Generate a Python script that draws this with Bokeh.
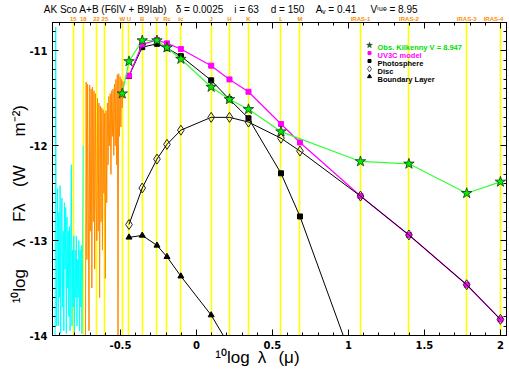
import numpy as np
from bokeh.plotting import figure
from bokeh.models import (Range1d, LinearAxis, FixedTicker, Label, AllLabels)
from bokeh.embed import file_html
from bokeh.resources import INLINE

# ---------------- data ----------------
filter_names = ["15", "18", "22", "25", "W", "U", "B", "V", "R", "I", "J", "H", "K",
                "L", "M", "IRAS-1", "IRAS-2", "IRAS-3", "IRAS-4"]
filter_subs = ["", "", "", "", "", "", "", "", "c", "c", "", "", "", "", "", "", "", "", ""]
filter_um = [0.155, 0.18, 0.22, 0.25, 0.325, 0.36, 0.44, 0.55, 0.64, 0.79, 1.25, 1.65,
             2.2, 3.6, 4.8, 12.0, 25.0, 60.0, 100.0]

obs_um = [0.325, 0.36, 0.44, 0.55, 0.64, 0.79, 1.25, 1.65, 2.2, 3.6, 12.0, 25.0, 60.0, 100.0]
obs_flux = [-11.45, -11.11, -10.89, -10.89, -10.965, -11.085, -11.38, -11.51, -11.615,
            -11.85, -12.165, -12.19, -12.50, -12.38]

model_um = [0.36, 0.44, 0.55, 0.64, 0.79, 1.25, 1.65, 2.2, 3.6, 4.8, 12.0, 25.0, 60.0, 100.0]
model_flux = [-11.26, -10.93, -10.885, -10.92, -10.98, -11.155, -11.30, -11.43, -11.77,
              -11.965, -12.53, -12.94, -13.465, -13.83]

phot_um = [0.36, 0.44, 0.55, 0.64, 0.79, 1.25, 1.65, 2.2, 3.6, 4.8, 12.0]
phot_flux = [-11.265, -10.96, -10.925, -10.97, -11.055, -11.31, -11.51, -11.71, -12.29,
             -12.745, -14.5]

disc_um = [0.36, 0.44, 0.55, 0.64, 0.79, 1.25, 1.65, 2.2, 3.6, 4.8, 12.0, 25.0, 60.0, 100.0]
disc_flux = [-12.83, -12.445, -12.14, -11.985, -11.835, -11.70, -11.70, -11.75, -11.92,
             -12.055, -12.53, -12.94, -13.465, -13.83]

bl_um = [0.36, 0.44, 0.55, 0.64, 0.79, 1.25, 1.65]
bl_flux = [-12.965, -12.945, -13.05, -13.17, -13.375, -13.785, -14.11]

# IUE spectra (log lambda grid, log lambda*F_lambda)
swp_loglam = np.linspace(-0.930, -0.745, 46)
swp_flux = [-14.0, -10.75, -13.9,
            -13.2, -12.45, -13.9, -12.7, -13.6, -12.42, -13.98, -12.8,
            -12.55, -13.7, -12.9, -13.95, -12.6, -13.3, -12.65, -13.98, -12.75, -13.5,
            -12.9, -13.8, -12.85, -13.95, -13.0, -12.2, -13.9, -13.1,
            -13.7, -12.95, -13.98, -13.1, -13.6, -12.95, -13.9, -13.2,
            -13.6, -13.0, -13.95, -13.1, -13.7, -13.05, -13.98, -13.2, -12.0]
lwp_loglam = np.linspace(-0.730, -0.474, 56)
lwp_flux = [-14.0,
            -11.33, -13.2, -11.35, -12.7, -13.95, -11.36, -12.9, -11.4, -13.5, -11.38,
            -12.8, -11.42, -13.3, -11.45, -12.6, -13.0, -11.5, -12.9, -11.55, -13.6,
            -11.58, -12.8, -11.6, -13.1, -11.62, -12.5, -11.66, -13.4, -11.63, -12.6,
            -11.55, -12.2, -11.48, -12.0, -11.45, -12.3, -11.42, -11.9, -11.4, -12.1,
            -11.35, -12.0, -11.3, -12.2, -11.25, -14.0,
            -11.24, -11.9, -11.27, -11.8, -11.3, -11.6, -11.32, -11.5, -11.45]

x_tick_vals = [-0.5, 0, 0.5, 1, 1.5, 2]
x_tick_labels = ["-0.5", "0", "0.5", "1", "1.5", "2"]
y_tick_vals = [-14, -13, -12, -11]
y_tick_labels = ["-14", "-13", "-12", "-11"]

title_parts = ["AK Sco A+B (F6IV + B9Iab)", "δ = 0.0025", "i = 63", "d = 150",
               "Aᵥ = 0.41", "Vⁱᵘᵉ = 8.95"]
xlabel_parts = ["¹⁰log", "λ", "(μ)"]
ylabel_parts = ["¹⁰log", "λ", "Fλ", "(W", "m⁻²)"]
legend_labels = ["Obs. Kilkenny V = 8.947", "UV3C model", "Photosphere", "Disc",
                 "Boundary Layer"]

# ---------------- layout ----------------
W, H = 509, 375
X0, X1 = -0.947, 2.04
Y0, Y1 = -14.0, -10.70
ML, MR, MT, MB = 52, 3, 18, 40
FW, FH = W - ML - MR, H - MT - MB
PX_X = FW / (X1 - X0)
PX_Y = FH / (Y1 - Y0)


def dx(px):  # page x -> data x
    return float(X0 + (px - ML) / PX_X)


def dy(py):  # page y -> data y
    return float(Y1 - (py - MT) / PX_Y)


# piece centres (page pixels) for the texts outside the frame
title_px = [105, 199, 246, 287, 335.5, 393.5]
xlabel_px = [232, 261.5, 288.5]
ylabel_py = [285, 241, 210.5, 173.5, 117.5]
FILTER_LABEL_MAX_PX = 493   # keep the last filter name inside the panel

p = figure(width=W, height=H, x_range=Range1d(X0, X1), y_range=Range1d(Y0, Y1),
           output_backend="svg", toolbar_location=None,
           x_axis_type=None, y_axis_type=None,
           min_border_left=ML, min_border_right=MR, min_border_top=MT, min_border_bottom=MB,
           background_fill_color="white", border_fill_color="white")
p.outline_line_color = "black"
p.outline_line_width = 1

x_minor = list(np.round(np.arange(-0.9, 2.05, 0.1), 2))
y_minor = list(np.round(np.arange(-14.0, -10.65, 0.1), 2))


def style_ticks(ax, major_in, minor_in):
    ax.major_tick_in = major_in
    ax.major_tick_out = 0
    ax.minor_tick_in = minor_in
    ax.minor_tick_out = 0
    ax.axis_line_color = "black"
    ax.major_tick_line_color = "black"
    ax.minor_tick_line_color = "black"


def labelled_axis(ticks, minor, labels):
    ax = LinearAxis(ticker=FixedTicker(ticks=ticks, minor_ticks=minor))
    style_ticks(ax, 6, 3)
    ax.major_label_overrides = dict(zip(ticks, labels))
    ax.major_label_text_font = "DejaVu Sans"
    ax.major_label_text_font_style = "bold"
    ax.major_label_text_font_size = "10px"
    ax.major_label_text_color = "black"
    ax.major_label_standoff = 5
    return ax


def bare_axes(ticks, minor):
    a1 = LinearAxis(ticker=FixedTicker(ticks=[], minor_ticks=list(ticks)))
    style_ticks(a1, 0, 6)
    a2 = LinearAxis(ticker=FixedTicker(ticks=[], minor_ticks=minor))
    style_ticks(a2, 0, 3)
    for a in (a1, a2):
        a.major_label_standoff = 0
    return a1, a2


def text_axis(positions, texts, size, color="black", style="normal",
              font="Liberation Sans", standoff=0, orientation="horizontal"):
    pos = [round(float(v), 6) for v in positions]
    ax = LinearAxis(ticker=FixedTicker(ticks=pos, minor_ticks=[]))
    ax.axis_line_color = None
    ax.major_tick_line_color = None
    ax.minor_tick_line_color = None
    ax.major_tick_in = 0
    ax.major_tick_out = 0
    ax.minor_tick_in = 0
    ax.minor_tick_out = 0
    ax.major_label_overrides = dict(zip(pos, texts))
    ax.major_label_policy = AllLabels()
    ax.major_label_text_font = font
    ax.major_label_text_font_size = f"{size}px"
    ax.major_label_text_font_style = style
    ax.major_label_text_color = color
    ax.major_label_standoff = standoff
    ax.major_label_orientation = orientation
    return ax


filter_log = np.log10(filter_um)
filter_disp = [n + s for n, s in zip(filter_names, filter_subs)]
filter_label_pos = np.minimum(filter_log, dx(FILTER_LABEL_MAX_PX))

# below: numbers, then axis title pieces
p.add_layout(labelled_axis(x_tick_vals, x_minor, x_tick_labels), "below")
p.add_layout(text_axis([dx(v) for v in xlabel_px], xlabel_parts, 17, standoff=-4), "below")
# left: numbers, then axis title pieces (rotated)
p.add_layout(labelled_axis(y_tick_vals, y_minor, y_tick_labels), "left")
p.add_layout(text_axis([dy(v) for v in ylabel_py], ylabel_parts, 17, standoff=-3,
                       orientation="vertical"), "left")
# above: ticks, filter names, title pieces
for a in bare_axes(x_tick_vals, x_minor):
    p.add_layout(a, "above")
p.add_layout(text_axis(filter_label_pos, filter_disp, 6, color="#ff8c00", style="bold",
                       standoff=1), "above")
p.add_layout(text_axis([dx(v) for v in title_px], title_parts, 10, standoff=-2), "above")
# right: ticks only
for a in bare_axes(y_tick_vals, y_minor):
    p.add_layout(a, "right")

# filter lines
p.vspan(x=filter_log, line_color="#ffff00", line_width=1.6)

# spectra
p.line(swp_loglam, swp_flux, line_color="#00ffff", line_width=1)
p.line(lwp_loglam, lwp_flux, line_color="#ff8a00", line_width=1)

# boundary layer
bx = np.log10(bl_um)
p.line(bx, bl_flux, line_color="black", line_width=1)
p.scatter(bx, bl_flux, marker="triangle", size=6, fill_color="black", line_color="black")

# photosphere
phx = np.log10(phot_um)
p.line(phx, phot_flux, line_color="black", line_width=1)
p.scatter(phx, phot_flux, marker="square", size=5, fill_color="black", line_color="black")

# model
mx = np.log10(model_um)
p.line(mx, model_flux, line_color="#ff00ff", line_width=1.2)
p.scatter(mx, model_flux, marker="square", size=5, fill_color="#ff00ff", line_color="#ff00ff")

# disc
dxs = np.log10(disc_um)
p.line(dxs, disc_flux, line_color="black", line_width=1)
p.scatter(dxs, disc_flux, marker="diamond", size=10, fill_alpha=0,
          line_color="#222222", line_width=1)

# observations
ox = np.log10(obs_um)
p.line(ox, obs_flux, line_color="#33ff33", line_width=1.2)
p.scatter(ox, obs_flux, marker="star", size=11, fill_color="#00ee00",
          line_color="#113311", line_width=0.8)

# legend (drawn by hand inside the frame so each entry keeps its own colour)
leg_rows = [41, 49, 57, 65, 72.7]
leg_colors = ["#00dd00", "#ff00ff", "black", "black", "black"]
LX, LT = 369, 377
p.scatter([dx(LX)], [dy(leg_rows[0])], marker="star", size=6, fill_color="#116611",
          line_color="#113311", line_width=0.5)
p.scatter([dx(LX)], [dy(leg_rows[1])], marker="square", size=3, fill_color="#ff00ff",
          line_color="#ff00ff")
p.scatter([dx(LX)], [dy(leg_rows[2])], marker="square", size=3, fill_color="black",
          line_color="black")
p.scatter([dx(LX)], [dy(leg_rows[3])], marker="diamond", size=6, fill_alpha=0,
          line_color="#333333", line_width=0.8)
p.scatter([dx(LX)], [dy(leg_rows[4])], marker="triangle", size=4, fill_color="black",
          line_color="black")
for txt, col, row in zip(legend_labels, leg_colors, leg_rows):
    p.add_layout(Label(x=dx(LT), y=dy(row + 2.8), text=txt, text_font="Liberation Sans",
                       text_font_size="7.5px", text_font_style="bold", text_color=col,
                       text_align="left", text_baseline="alphabetic"))

open("out.html", "w").write(file_html(p, INLINE))
